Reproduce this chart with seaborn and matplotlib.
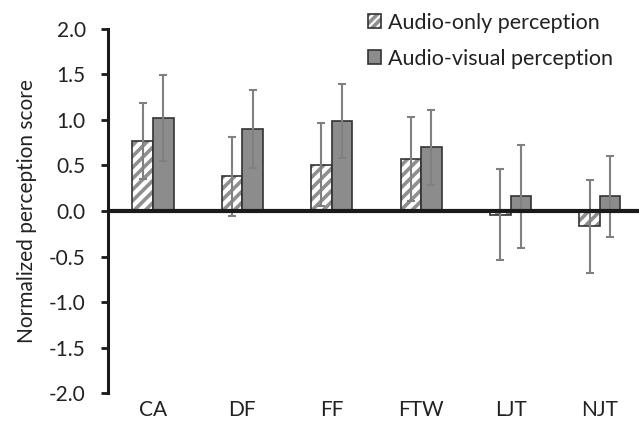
import numpy as np
import pandas as pd
import matplotlib
matplotlib.use("Agg")
import matplotlib.pyplot as plt
from matplotlib.colors import to_rgba
import seaborn as sns

categories = ["CA", "DF", "FF", "FTW", "LJT", "NJT"]
series_names = ["Audio-only perception", "Audio-visual perception"]
audio_only = [0.77, 0.38, 0.51, 0.57, -0.04, -0.17]
audio_only_err = [0.42, 0.43, 0.46, 0.46, 0.50, 0.51]
audio_visual = [1.02, 0.90, 0.99, 0.70, 0.16, 0.16]
audio_visual_err = [0.47, 0.43, 0.41, 0.41, 0.57, 0.44]
yticks = [-2.0, -1.5, -1.0, -0.5, 0.0, 0.5, 1.0, 1.5, 2.0]

sns.set_theme(style="white")
plt.rcParams["font.family"] = ["Lato", "DejaVu Sans"]
plt.rcParams["hatch.linewidth"] = 2.6
HATCH_C = to_rgba("#8f8f8f")
TXT = "#222222"

df = pd.DataFrame({
    "cat": categories * 2,
    "series": [series_names[0]] * 6 + [series_names[1]] * 6,
    "val": audio_only + audio_visual,
    "err": audio_only_err + audio_visual_err,
})

fig = plt.figure(figsize=(6.39, 4.25), dpi=100)
ax = fig.add_axes([0.169, 0.075, 0.831, 0.857])

sns.barplot(data=df, x="cat", y="val", hue="series", order=categories,
            hue_order=series_names, errorbar=None, width=0.46, gap=0,
            palette=["white", "#8c8c8c"], edgecolor="#333333", linewidth=1.2,
            saturation=1, ax=ax)

bars_ao = ax.containers[0]
bars_av = ax.containers[1]
for p in bars_ao:
    p.set_hatch("///")
    p._hatch_color = HATCH_C
for cont, vals, errs in [(bars_ao, audio_only, audio_only_err),
                         (bars_av, audio_visual, audio_visual_err)]:
    xs = [p.get_x() + p.get_width() / 2 for p in cont]
    ax.errorbar(xs, vals, yerr=errs, fmt="none", ecolor="#808080",
                elinewidth=1.5, capsize=3, capthick=1.5, zorder=5)

ax.axhline(0, color="#1a1a1a", lw=3, zorder=6)
ax.set_ylim(-2.0, 2.0)
ax.set_xlim(-0.503, 5.437)
ax.set_yticks(yticks)
ax.set_yticklabels([f"{t:.1f}" for t in yticks], fontsize=15, color=TXT)
ax.tick_params(axis="y", direction="out", length=5, width=2, color="#1a1a1a", pad=11, left=True)
ax.tick_params(axis="x", length=0, labelsize=15, labelcolor=TXT, pad=5)
for s in ["top", "right", "bottom"]:
    ax.spines[s].set_visible(False)
ax.spines["left"].set_color("#1a1a1a")
ax.spines["left"].set_linewidth(2.2)
ax.set_xlabel("")
ax.set_ylabel("Normalized perception score", fontsize=15, color=TXT, labelpad=9)

leg = ax.legend(loc="upper right", bbox_to_anchor=(0.975, 1.08), frameon=False,
                fontsize=15.5, handlelength=0.6, handleheight=0.6, handletextpad=0.3,
                labelspacing=0.75, borderaxespad=0.2)
for t in leg.get_texts():
    t.set_color(TXT)
hs = leg.legend_handles
hs[0].set_hatch("////")
hs[0]._hatch_color = HATCH_C

fig.savefig("out.png", dpi=100)
